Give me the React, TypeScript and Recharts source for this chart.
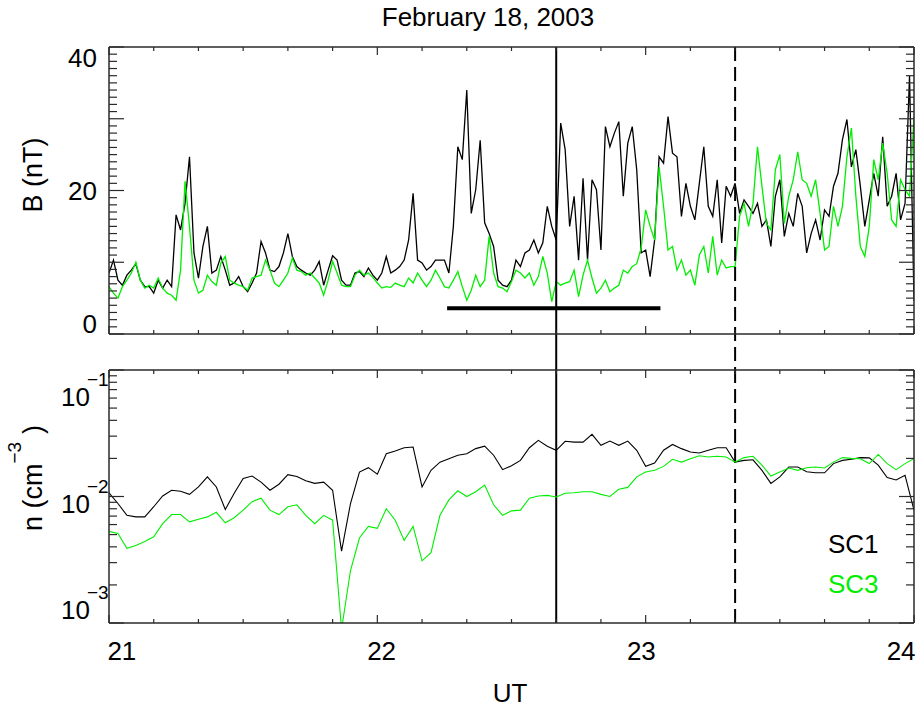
import React from 'react';
import { LineChart, Line, XAxis, YAxis, ReferenceLine } from 'recharts';

// Magnetic field magnitude, 1-min samples from 21:00 to 24:00 UT (nT)
const B_SC1 = [
  8.5, 10.3, 7.5, 6.8, 8.2, 8.9, 9.8, 7.5, 6.6, 6.6,
  5.7, 7.5, 6.4, 7.5, 6.6, 16.6, 14.5, 18.2, 24.7, 11.3,
  7.8, 12.2, 15.0, 8.5, 8.9, 10.8, 8.9, 6.8, 7.1, 8.0,
  6.6, 5.9, 7.1, 8.5, 12.9, 11.3, 8.9, 8.7, 9.4, 11.3,
  14.0, 10.8, 9.4, 8.9, 8.5, 8.2, 8.9, 10.1, 6.8, 8.9,
  10.9, 10.3, 7.5, 6.8, 6.8, 8.5, 8.7, 8.0, 9.2, 8.2,
  7.5, 8.5, 10.8, 8.5, 8.9, 9.4, 10.3, 13.1, 19.6, 10.3,
  9.9, 8.9, 9.4, 10.3, 10.3, 10.3, 8.5, 15.0, 26.1, 24.3,
  34.0, 16.8, 20.1, 27.0, 15.5, 14.0, 12.2, 7.5, 6.8, 6.6,
  7.5, 10.3, 9.4, 11.3, 11.7, 13.1, 11.3, 12.7, 17.8, 15.0,
  13.1, 29.4, 25.7, 15.0, 19.2, 10.3, 21.7, 10.3, 21.5, 20.1,
  11.7, 28.9, 26.1, 28.0, 29.6, 19.2, 26.6, 28.9, 22.9, 11.3,
  11.7, 8.0, 13.1, 24.7, 23.8, 30.3, 25.2, 24.7, 16.4, 21.0,
  17.8, 15.9, 21.0, 26.1, 17.8, 16.4, 21.5, 12.7, 20.6, 19.2,
  21.0, 16.8, 18.7, 17.8, 16.8, 18.2, 15.0, 15.9, 12.2, 19.2,
  21.5, 13.6, 16.8, 15.0, 19.6, 17.8, 11.3, 14.0, 15.9, 13.1,
  17.3, 16.4, 20.6, 22.4, 27.1, 29.9, 23.3, 25.7, 20.6, 15.0,
  18.7, 22.4, 19.2, 27.5, 17.8, 19.2, 22.4, 15.9, 18.2, 36.0,
  4.6,
];

const B_SC3 = [
  6.6, 5.7, 5.0, 6.6, 7.5, 8.5, 10.0, 7.5, 6.4, 6.8,
  6.4, 7.8, 6.4, 5.7, 5.4, 4.7, 8.9, 21.3, 15.0, 7.5,
  5.7, 6.1, 8.2, 7.3, 6.8, 9.9, 10.8, 7.5, 7.1, 6.8,
  6.6, 6.1, 7.8, 8.0, 8.2, 10.3, 8.9, 7.1, 6.6, 7.5,
  8.5, 10.6, 8.9, 8.7, 8.2, 8.5, 7.8, 7.1, 5.4, 7.5,
  10.1, 8.5, 6.8, 6.6, 6.6, 8.2, 8.9, 8.2, 8.5, 7.9,
  7.1, 6.4, 6.6, 6.5, 7.1, 6.8, 6.6, 7.8, 7.1, 8.5,
  7.5, 6.6, 7.5, 8.9, 7.8, 6.6, 6.4, 7.5, 8.7, 6.6,
  4.7, 6.1, 8.2, 6.6, 7.5, 13.6, 8.5, 6.6, 6.4, 5.9,
  7.3, 8.9, 8.5, 7.8, 8.5, 6.8, 8.0, 10.8, 8.5, 4.5,
  7.3, 6.8, 7.1, 7.3, 8.9, 5.2, 8.2, 10.3, 7.8, 5.7,
  6.4, 7.5, 5.9, 6.4, 6.8, 8.9, 8.5, 9.4, 9.8, 12.0,
  17.3, 15.0, 13.1, 23.3, 17.8, 11.7, 12.2, 8.9, 10.3, 8.2,
  8.9, 6.8, 11.0, 12.2, 8.5, 13.6, 8.2, 10.3, 9.2, 9.4,
  9.4, 16.4, 18.2, 15.0, 18.2, 26.1, 20.6, 15.4, 14.5, 22.9,
  25.0, 15.4, 19.2, 21.5, 25.4, 21.5, 21.0, 19.2, 21.5, 16.8,
  11.7, 12.2, 17.8, 15.0, 17.8, 24.7, 28.7, 19.2, 12.2, 10.8,
  15.0, 24.3, 21.5, 26.6, 22.4, 15.9, 15.0, 21.5, 20.1, 19.2,
  30.3,
];

// Plasma density, 2-min samples from 21:00 to 24:00 UT (cm^-3)
const N_SC1 = [
  0.0107, 0.0088, 0.0071, 0.0069, 0.0069, 0.0083, 0.0101, 0.0112, 0.0110, 0.0104,
  0.0119, 0.0143, 0.0119, 0.0079, 0.0106, 0.0139, 0.0145, 0.0130, 0.0112, 0.0125,
  0.0149, 0.0144, 0.0133, 0.0127, 0.0130, 0.0112, 0.0037, 0.0088, 0.0156, 0.0169,
  0.0150, 0.0218, 0.0229, 0.0243, 0.0246, 0.0119, 0.0161, 0.0187, 0.0199, 0.0212,
  0.0218, 0.0239, 0.0250, 0.0212, 0.0163, 0.0175, 0.0193, 0.0243, 0.0278, 0.0250,
  0.0232, 0.0273, 0.0269, 0.0269, 0.0310, 0.0254, 0.0274, 0.0254, 0.0274, 0.0232,
  0.0173, 0.0184, 0.0232, 0.0258, 0.0239, 0.0225, 0.0221, 0.0232, 0.0243, 0.0243,
  0.0187, 0.0193, 0.0195, 0.0161, 0.0127, 0.0143, 0.0171, 0.0171, 0.0157, 0.0154,
  0.0154, 0.0182, 0.0193, 0.0197, 0.0203, 0.0202, 0.0177, 0.0141, 0.0135, 0.0147,
  0.0078,
];

const N_SC3 = [
  0.0053, 0.0051, 0.0039, 0.0041, 0.0044, 0.0048, 0.0061, 0.0072, 0.0072, 0.0063,
  0.0066, 0.0069, 0.0075, 0.0062, 0.0068, 0.0078, 0.0091, 0.0097, 0.0078, 0.0072,
  0.0083, 0.0086, 0.0071, 0.0061, 0.0071, 0.0065, 0.00089, 0.0026, 0.0047, 0.0058,
  0.0056, 0.0080, 0.0065, 0.0045, 0.0058, 0.0031, 0.0036, 0.0071, 0.0094, 0.0111,
  0.0100, 0.0109, 0.0123, 0.0086, 0.0071, 0.0077, 0.0078, 0.0097, 0.0101, 0.0102,
  0.0099, 0.0106, 0.0107, 0.0109, 0.0109, 0.0104, 0.0100, 0.0114, 0.0118, 0.0143,
  0.0156, 0.0161, 0.0173, 0.0197, 0.0187, 0.0199, 0.0210, 0.0205, 0.0208, 0.0205,
  0.0187, 0.0203, 0.0208, 0.0177, 0.0145, 0.0156, 0.0168, 0.0161, 0.0169, 0.0171,
  0.0168, 0.0187, 0.0203, 0.0200, 0.0199, 0.0182, 0.0215, 0.0182, 0.0163, 0.0182,
  0.0199,
];

const UT_START = 21;
const UT_END = 24;
const HOUR_LABELS = [21, 22, 23, 24];
const B_LABELS = [0, 20, 40];

// marked times and interval
const EVENT_T = 22 + 40 / 60;
const BOUNDARY_T = 23 + 20 / 60;
const BAR_START = 22.26;
const BAR_END = 23.055;
const BAR_LEVEL = 3.6;

const bData = B_SC1.map((v, i) => ({ t: UT_START + i / 60, sc1: v, sc3: B_SC3[i] }));
const nData = N_SC1.map((v, i) => ({ t: UT_START + i / 30, sc1: v, sc3: N_SC3[i] }));

const X_TICKS = Array.from({ length: 19 }, (_, i) => UT_START + i / 6);
const B_TICKS = Array.from({ length: 41 }, (_, i) => i);
const N_TICKS = [
  ...[1, 2, 3, 4, 5, 6, 7, 8, 9].map((m) => m * 0.001),
  ...[1, 2, 3, 4, 5, 6, 7, 8, 9].map((m) => m * 0.01),
  0.1,
];

const W = 917;
const H = 713;
const FONT = '"Liberation Sans", Arial, Helvetica, sans-serif';
const GREEN = '#00ee00';
const FRAME = '#2a2a2a';
const frameLine = { stroke: FRAME, strokeWidth: 1.5 };

// plot boxes (axes are 1px wide, so margins stop one pixel short)
const TOP_BOX = { top: 47, bottom: 334 };
const LOW_BOX = { top: 370, bottom: 623 };
const LEFT = 109;
const RIGHT = 914;

const isWhole = (v: number) => Math.abs(v - Math.round(v)) < 1e-6;

const TimeTick = ({ x, y, payload, side, labelled }: any) => {
  const v = payload.value;
  const major = isWhole(v);
  const len = major ? 8 : 4;
  const y2 = side === 'top' ? y + len : y - len;
  return (
    <g>
      <line x1={x} y1={y} x2={x} y2={y2} stroke={FRAME} strokeWidth={1.2} />
      {labelled && major && HOUR_LABELS.includes(Math.round(v)) && (
        <text
          x={511.5 + (x - 511.5) * 0.968}
          y={y + 37}
          textAnchor="middle"
          fontSize={26}
          fontFamily={FONT}
          fill="#000"
        >
          {Math.round(v)}
        </text>
      )}
    </g>
  );
};

const FieldTick = ({ x, y, payload, side }: any) => {
  const v = payload.value;
  const major = v % 10 === 0;
  const len = major ? 15 : 8;
  const x2 = side === 'right' ? x - len : x + len;
  return (
    <g>
      <line x1={x} y1={y} x2={x2} y2={y} stroke={FRAME} strokeWidth={1.2} />
      {side === 'left' && B_LABELS.includes(v) && (
        <text
          x={x - 12}
          y={194.5 + (y - 194.5) * 0.927 + 9}
          textAnchor="end"
          fontSize={26}
          fontFamily={FONT}
          fill="#000"
        >
          {v}
        </text>
      )}
    </g>
  );
};

const DensityTick = ({ x, y, payload, side }: any) => {
  const v = payload.value;
  const exp = Math.log10(v);
  const major = isWhole(exp);
  const len = major ? 15 : 8;
  const x2 = side === 'right' ? x - len : x + len;
  const base = 541 + (y - 541) * 0.842 + 9;
  return (
    <g>
      <line x1={x} y1={y} x2={x2} y2={y} stroke={FRAME} strokeWidth={1.2} />
      {side === 'left' && major && (
        <g fontFamily={FONT} fill="#000">
          <text x={x - 19} y={base} textAnchor="end" fontSize={26}>
            10
          </text>
          <text x={x - 22} y={base - 20} textAnchor="start" fontSize={19}>
            {'\u2212' + Math.abs(Math.round(exp))}
          </text>
        </g>
      )}
    </g>
  );
};

const axisCommon = {
  tickSize: 0,
  tickMargin: 0,
  tickLine: false,
  axisLine: frameLine,
  interval: 0 as const,
  allowDataOverflow: true,
};

const timeAxes = (labelled: boolean) => [
  <XAxis
    key="xb"
    dataKey="t"
    type="number"
    domain={[UT_START, UT_END]}
    ticks={X_TICKS}
    height={1}
    {...axisCommon}
    tick={<TimeTick side="bottom" labelled={labelled} />}
  />,
  <XAxis
    key="xt"
    xAxisId="top"
    orientation="top"
    dataKey="t"
    type="number"
    domain={[UT_START, UT_END]}
    ticks={X_TICKS}
    height={1}
    {...axisCommon}
    tick={<TimeTick side="top" />}
  />,
];

const marginFor = (box: { top: number; bottom: number }) => ({
  top: box.top - 1,
  bottom: H - box.bottom - 1,
  left: LEFT - 1,
  right: W - RIGHT - 1,
});

const FieldPanel = () => (
  <LineChart width={W} height={H} data={bData} margin={marginFor(TOP_BOX)}>
    {timeAxes(false)}
    <YAxis
      type="number"
      domain={[0, 40]}
      ticks={B_TICKS}
      width={1}
      {...axisCommon}
      tick={<FieldTick side="left" />}
    />
    <YAxis
      yAxisId="right"
      orientation="right"
      type="number"
      domain={[0, 40]}
      ticks={B_TICKS}
      width={1}
      {...axisCommon}
      tick={<FieldTick side="right" />}
    />
    <Line dataKey="sc1" type="linear" stroke="#000" strokeWidth={1.3} dot={false} isAnimationActive={false} />
    <Line dataKey="sc3" type="linear" stroke={GREEN} strokeWidth={1.3} dot={false} isAnimationActive={false} />
    {/* markers run down through the gap to the lower panel */}
    <ReferenceLine
      segment={[{ x: EVENT_T, y: 40 }, { x: EVENT_T, y: -5 }]}
      ifOverflow="visible"
      stroke="#000"
      strokeWidth={2}
    />
    <ReferenceLine
      segment={[{ x: BOUNDARY_T, y: 40 }, { x: BOUNDARY_T, y: -5 }]}
      ifOverflow="visible"
      stroke="#000"
      strokeWidth={2}
      strokeDasharray="14 6"
    />
    <ReferenceLine
      segment={[{ x: BAR_START, y: BAR_LEVEL }, { x: BAR_END, y: BAR_LEVEL }]}
      stroke="#000"
      strokeWidth={4}
    />
  </LineChart>
);

const DensityPanel = () => (
  <LineChart width={W} height={H} data={nData} margin={marginFor(LOW_BOX)}>
    {timeAxes(true)}
    <YAxis
      type="number"
      scale="log"
      domain={[0.001, 0.1]}
      ticks={N_TICKS}
      width={1}
      {...axisCommon}
      tick={<DensityTick side="left" />}
    />
    <YAxis
      yAxisId="right"
      orientation="right"
      type="number"
      scale="log"
      domain={[0.001, 0.1]}
      ticks={N_TICKS}
      width={1}
      {...axisCommon}
      tick={<DensityTick side="right" />}
    />
    <ReferenceLine x={EVENT_T} stroke="#000" strokeWidth={2} />
    <ReferenceLine x={BOUNDARY_T} stroke="#000" strokeWidth={2} strokeDasharray="14 6" />
    <Line dataKey="sc1" type="linear" stroke="#000" strokeWidth={1.1} dot={false} isAnimationActive={false} />
    <Line dataKey="sc3" type="linear" stroke={GREEN} strokeWidth={1.1} dot={false} isAnimationActive={false} />
  </LineChart>
);

const layer: React.CSSProperties = { position: 'absolute', left: 0, top: 0 };

export default function App() {
  return (
    <div style={{ position: 'absolute', left: 0, top: 0, width: W, height: H, background: '#fff' }}>
      <div style={layer}>
        <FieldPanel />
      </div>
      <div style={layer}>
        <DensityPanel />
      </div>
      <svg width={W} height={H} style={{ ...layer, pointerEvents: 'none' }} fontFamily={FONT}>
        <text x={488} y={26} textAnchor="middle" fontSize={26} fill="#000">
          February 18, 2003
        </text>
        <text transform="translate(42,175) rotate(-90)" textAnchor="middle" fontSize={27} fill="#000">
          B (nT)
        </text>
        <text transform="translate(42,478) rotate(-90)" textAnchor="middle" fontSize={27} fill="#000">
          n (cm
          <tspan dy={-21} fontSize={19}>
            {'\u22123'}
          </tspan>
          <tspan dy={21} dx={8}>
            )
          </tspan>
        </text>
        <text x={510} y={702} textAnchor="middle" fontSize={26} fill="#000">
          UT
        </text>
        <text x={828} y={553} fontSize={26} fill="#000">
          SC1
        </text>
        <text x={828} y={593} fontSize={26} fill={GREEN}>
          SC3
        </text>
      </svg>
    </div>
  );
}
